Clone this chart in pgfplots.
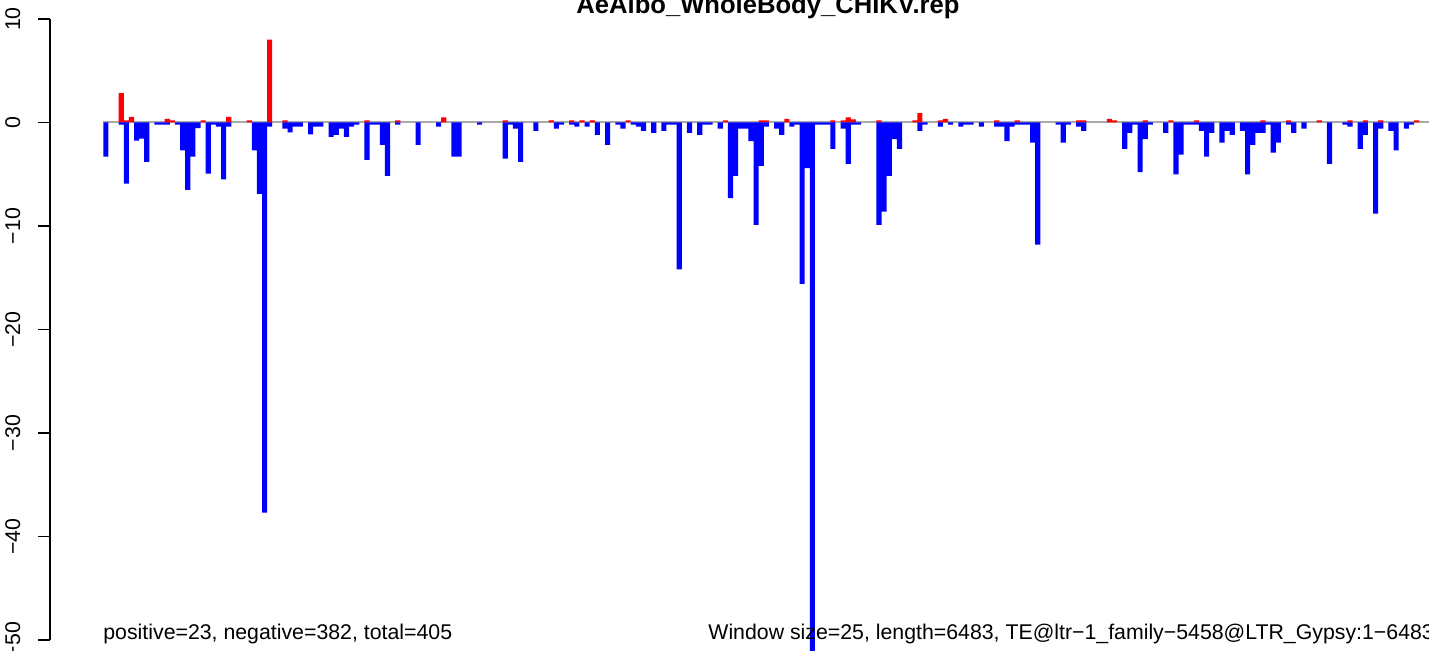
\documentclass[border=0pt]{standalone}
\usepackage{fontspec}
\setmainfont{Liberation Sans}
\usepackage{pgfplots}
\usepackage{pgfplotstable}
\pgfplotsset{compat=1.18}

\pgfplotstableread{
i v
0 -3.3
3 -0.2
4 -5.9
6 -1.75
7 -1.55
8 -3.8
10 -0.2
11 -0.2
12 -0.2
14 -0.2
15 -2.7
16 -6.5
17 -3.3
18 -0.55
20 -4.95
21 -0.2
22 -0.4
23 -5.5
24 -0.4
29 -2.7
30 -6.9
31 -37.7
32 -0.4
35 -0.6
36 -0.95
37 -0.4
38 -0.4
40 -1.15
41 -0.4
42 -0.4
44 -1.4
45 -1.2
46 -0.6
47 -1.4
48 -0.4
49 -0.2
51 -3.6
52 -0.2
53 -0.2
54 -2.15
55 -5.15
57 -0.2
61 -2.15
65 -0.4
68 -3.3
69 -3.3
73 -0.2
78 -3.5
79 -0.2
80 -0.6
81 -3.8
84 -0.8
88 -0.6
89 -0.2
91 -0.2
92 -0.4
94 -0.4
96 -1.2
98 -2.15
100 -0.2
101 -0.6
103 -0.2
104 -0.4
105 -0.8
107 -1.0
109 -0.8
110 -0.2
111 -0.2
112 -14.2
114 -1.0
116 -1.2
117 -0.2
118 -0.2
120 -0.6
122 -7.3
123 -5.15
124 -0.6
125 -0.6
126 -1.8
127 -9.9
128 -4.2
129 -0.4
131 -0.6
132 -1.2
134 -0.4
135 -0.2
136 -15.6
137 -4.4
138 -51.5
139 -0.2
140 -0.2
141 -0.2
142 -2.55
144 -0.6
145 -4.0
146 -0.2
147 -0.2
151 -9.9
152 -8.6
153 -5.15
154 -1.6
155 -2.55
159 -0.8
160 -0.2
163 -0.4
165 -0.2
167 -0.4
168 -0.2
169 -0.2
171 -0.4
174 -0.4
175 -0.4
176 -1.8
177 -0.4
178 -0.2
179 -0.2
180 -0.2
181 -1.95
182 -11.8
186 -0.2
187 -1.95
188 -0.2
190 -0.4
191 -0.8
199 -2.55
200 -1.0
201 -0.2
202 -4.8
203 -1.6
204 -0.2
207 -1.0
209 -5.0
210 -3.1
211 -0.2
212 -0.2
213 -0.2
214 -0.8
215 -3.3
216 -1.0
218 -1.95
219 -0.8
220 -1.2
222 -0.8
223 -5.0
224 -2.15
225 -1.0
226 -1.0
227 -0.2
228 -2.9
229 -1.95
231 -0.2
232 -1.0
234 -0.6
239 -4.0
242 -0.2
243 -0.4
245 -2.55
246 -1.2
248 -8.8
249 -0.6
251 -0.8
252 -2.7
254 -0.6
255 -0.2
}\negdata

\pgfplotstableread{
i v
3 2.85
4 0.2
5 0.55
12 0.35
13 0.2
19 0.2
24 0.55
28 0.2
32 8.0
35 0.2
51 0.2
57 0.2
66 0.5
78 0.2
87 0.2
91 0.2
93 0.2
95 0.2
102 0.2
121 0.2
128 0.2
129 0.2
133 0.35
142 0.2
144 0.2
145 0.5
146 0.3
151 0.2
158 0.2
159 0.9
163 0.2
164 0.35
174 0.2
178 0.2
190 0.2
191 0.2
196 0.35
197 0.2
203 0.2
208 0.2
213 0.2
226 0.2
231 0.2
237 0.2
243 0.2
246 0.2
249 0.2
256 0.2
}\posdata

\definecolor{zeroline}{RGB}{170,170,170}

\begin{document}
\begin{tikzpicture}
\useasboundingbox (0,0) rectangle (714.5pt,325pt);
\clip (0,0) rectangle (714.5pt,325pt);
\begin{axis}[
  at={(25.02pt,5pt)}, anchor=south west,
  x=2.56pt, y=5.175pt,
  xmin=-10.4, xmax=270.4, ymin=-50, ymax=10,
  hide x axis,
  axis y line*=left,
  axis line style={line width=0.67pt, black},
  ytick={-50,-40,-30,-20,-10,0,10},
  yticklabels={−50,−40,−30,−20,−10,0,10},
  tick align=outside,
  major tick length=6pt,
  ytick style={line width=0.67pt, black},
  yticklabel style={rotate=90, anchor=base, inner sep=0pt, yshift=9pt, font=\fontsize{10.65}{12}\selectfont},
  clip=false,
]
\addplot[zeroline, line width=1pt] coordinates {(0,0) (260,0)};
\addplot[ybar, bar width=1, bar shift=0, fill=red, draw=none] table[x expr=\thisrow{i}+0.5, y=v] {\posdata};
\addplot[ybar, bar width=1, bar shift=0, fill=blue, draw=none] table[x expr=\thisrow{i}+0.5, y=v] {\negdata};
\end{axis}
\node[anchor=base, inner sep=0pt, font=\bfseries\fontsize{12.8}{14}\selectfont] at (384pt,318.25pt) {AeAlbo\_WholeBody\_CHIKV.rep};
\node[anchor=base west, inner sep=0pt, font=\fontsize{10.65}{12}\selectfont] at (51.5pt,5.5pt) {positive=23, negative=382, total=405};
\node[anchor=base west, inner sep=0pt, font=\fontsize{10.65}{12}\selectfont] at (354pt,5.5pt) {Window size=25, length=6483, TE@ltr−1\_family−5458@LTR\_Gypsy:1−6483};
\end{tikzpicture}
\end{document}
